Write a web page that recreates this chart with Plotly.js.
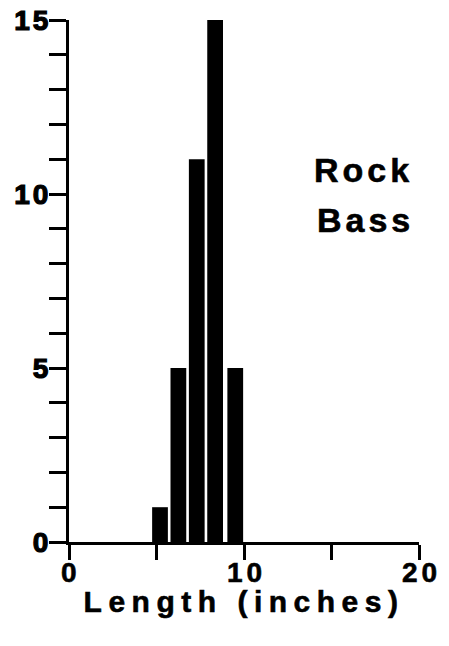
<!DOCTYPE html>
<html>
<head>
<meta charset="utf-8">
<script src="https://cdn.plot.ly/plotly-3.0.1.min.js"></script>
<style>
  html, body { margin: 0; padding: 0; background: #fff; }
  #chart { width: 449px; height: 646px; }
  svg text { font-weight: bold !important; }
  .xtitle { letter-spacing: 6.5px; stroke: #000; stroke-width: 0.6px; }
  .annotation-text { letter-spacing: 4px; stroke: #000; stroke-width: 0.6px; }
  .yaxislayer-above text { letter-spacing: 3px; stroke: #000; stroke-width: 1.2px; }
</style>
</head>
<body>
<div id="chart"></div>
<script>
// Histogram of rock bass lengths
const binCenters = [5.2, 6.25, 7.3, 8.35, 9.5];    // length (inches)
const counts = [1, 5, 11, 15, 5];                  // number of fish
const xTickVals = [0, 5, 10, 15, 20];
const xTickText = ['0', '', '10', '', '20'];
const yTickVals = [0,1,2,3,4,5,6,7,8,9,10,11,12,13,14,15];
const yTickText = ['0','','','','','5','','','','','10','','','','','15'];
const labelLines = ['Rock', 'Bass'];
const xTitle = 'Length (inches)';

const fam = 'Liberation Sans, Arial, sans-serif';

const trace = {
  type: 'bar',
  x: binCenters,
  y: counts,
  width: 0.9,
  marker: { color: '#000', line: { width: 0 } },
  hoverinfo: 'skip'
};

// x tick labels drawn as bold annotations anchored to the x axis values
const xLabelAnnotations = xTickVals
  .map(function (v, i) { return { v: v, t: xTickText[i] }; })
  .filter(function (d) { return d.t !== ''; })
  .map(function (d) {
    return { text: d.t, xref: 'x', yref: 'paper', x: d.v, y: -0.058,
      xanchor: 'center', yanchor: 'middle', xshift: 2, showarrow: false,
      font: { family: fam, size: 28, color: '#000', weight: 700 } };
  });

const layout = {
  width: 449,
  height: 646,
  margin: { l: 69, r: 30, t: 20, b: 104 },
  paper_bgcolor: '#fff',
  plot_bgcolor: '#fff',
  showlegend: false,
  font: { family: fam, color: '#000' },
  xaxis: {
    range: [0, 20],
    tickvals: xTickVals,
    ticks: 'outside',
    ticklen: 15,
    tickwidth: 3,
    tickcolor: '#000',
    showticklabels: false,
    showline: true,
    linewidth: 3,
    linecolor: '#000',
    showgrid: false,
    zeroline: false,
    title: { text: xTitle, font: { family: fam, size: 30, color: '#000', weight: 700 }, standoff: 32 }
  },
  yaxis: {
    range: [0, 15],
    tickvals: yTickVals,
    ticktext: yTickText,
    ticks: 'outside',
    ticklen: 17,
    tickwidth: 3,
    tickcolor: '#000',
    ticklabelstandoff: -8,
    showline: true,
    linewidth: 3,
    linecolor: '#000',
    showgrid: false,
    zeroline: false,
    tickfont: { family: fam, size: 28, color: '#000', weight: 700 }
  },
  annotations: [
    { text: labelLines[0], xref: 'paper', yref: 'paper', x: 0.84, y: 0.712,
      xanchor: 'center', yanchor: 'middle', showarrow: false,
      font: { family: fam, size: 34, color: '#000', weight: 700 } },
    { text: labelLines[1], xref: 'paper', yref: 'paper', x: 0.846, y: 0.616,
      xanchor: 'center', yanchor: 'middle', showarrow: false,
      font: { family: fam, size: 34, color: '#000', weight: 700 } }
  ].concat(xLabelAnnotations)
};

Plotly.newPlot('chart', [trace], layout, { displayModeBar: false, staticPlot: true });
</script>
</body>
</html>
